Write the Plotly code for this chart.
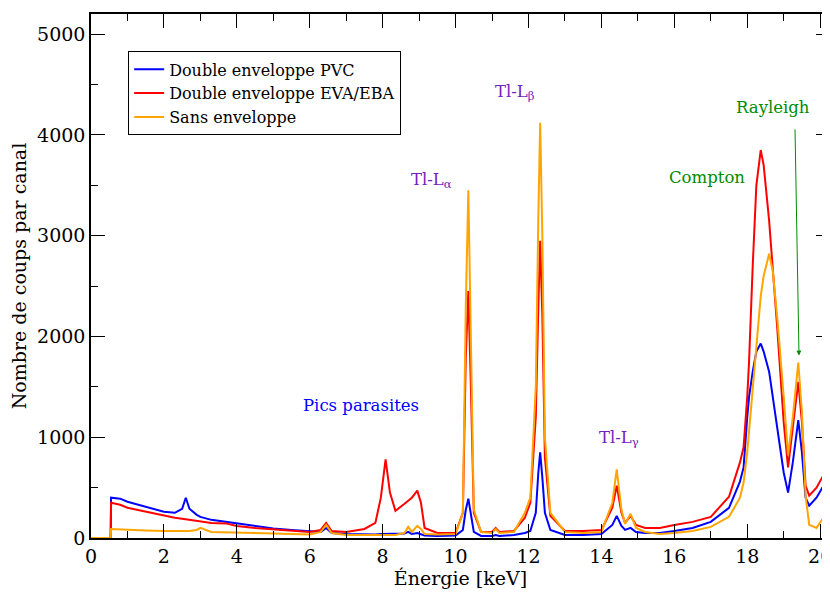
import plotly.graph_objects as go

# Energy grid (keV) and counts per channel
energy = [0, 0.54, 0.55, 0.8, 1.0, 1.5, 2.0, 2.3, 2.5, 2.6, 2.7, 2.9, 3.0, 3.3, 3.7, 4.0,
          4.5, 5.0, 5.5, 6.0, 6.3, 6.45, 6.6, 7.0, 7.5, 7.8, 7.95, 8.08, 8.2, 8.35,
          8.6, 8.7, 8.8, 8.95, 9.05, 9.15, 9.5, 10.0, 10.2, 10.28, 10.35, 10.42, 10.5,
          10.7, 11.0, 11.1, 11.2, 11.6, 11.9, 12.05, 12.2, 12.27, 12.32, 12.38, 12.45,
          12.6, 12.75, 13.0, 13.5, 14.0, 14.3, 14.42, 14.55, 14.65, 14.8, 14.95, 15.2,
          15.6, 16.0, 16.5, 17.0, 17.5, 17.8, 17.9, 18.0, 18.05, 18.15, 18.25, 18.37,
          18.45, 18.6, 18.7, 18.82, 19.0, 19.12, 19.25, 19.4, 19.5, 19.6, 19.7, 19.9, 20.27]

pvc = [0, 0, 400, 390, 360, 310, 260, 250, 290, 400, 290, 230, 210, 180, 160, 140,
       115, 95, 80, 65, 60, 100, 50, 40, 35, 35, 40, 40, 40, 40,
       45, 60, 40, 50, 40, 25, 20, 25, 80, 280, 390, 250, 60,
       20, 20, 30, 20, 30, 50, 70, 250, 650, 850, 600, 250,
       80, 60, 30, 30, 40, 130, 220, 120, 80, 100, 60, 50,
       50, 70, 100, 160, 300, 560, 700, 1200, 1400, 1650, 1850, 1930,
       1850, 1650, 1400, 1100, 650, 450, 750, 1170, 850, 400, 320, 400, 630]

eva = [0, 0, 350, 330, 300, 260, 220, 200, 190, 185, 180, 170, 165, 150, 145, 120,
       100, 85, 70, 60, 80, 150, 70, 60, 90, 150, 400, 780, 450, 270,
       340, 370, 400, 470, 350, 100, 50, 50, 250, 1800, 2450, 1500, 250,
       60, 60, 100, 60, 70, 200, 350, 1200, 2300, 2950, 2200, 800,
       220, 160, 70, 70, 80, 300, 520, 250, 150, 220, 130, 100,
       100, 130, 160, 210, 410, 750, 900, 1400, 1750, 2700, 3500, 3850,
       3700, 3150, 2700, 2100, 1150, 700, 1100, 1550, 1150, 520, 420, 500, 740]

sans = [0, 0, 90, 85, 80, 75, 70, 70, 65, 70, 70, 80, 100, 60, 55, 50,
        50, 45, 40, 35, 60, 130, 50, 30, 30, 30, 30, 30, 30, 30,
        50, 110, 60, 120, 90, 40, 35, 40, 250, 2300, 3450, 2000, 280,
        60, 50, 90, 50, 60, 250, 400, 1500, 3200, 4120, 3000, 1000,
        250, 180, 60, 50, 60, 350, 680, 280, 140, 240, 100, 60,
        40, 50, 70, 110, 210, 400, 550, 850, 1070, 1450, 1900, 2400,
        2600, 2820, 2650, 2200, 1400, 820, 1200, 1740, 1250, 420, 130, 100, 300]

series_names = ["Double enveloppe PVC", "Double enveloppe EVA/EBA", "Sans enveloppe"]
series_colors = ["#0000ff", "#ff0000", "#ffa500"]

FONT = "DejaVu Serif"

fig = go.Figure()
for name, vals, col in zip(series_names, [pvc, eva, sans], series_colors):
    fig.add_trace(go.Scatter(x=energy, y=vals, mode="lines", name=name,
                             line=dict(color=col, width=2)))

purple = "#7221bc"
green = "#008b00"
ann = [
    dict(x=7.4, y=1310, text="Pics parasites", color="#0000ff"),
    dict(x=9.33, y=3550, text="Tl-L<sub>α</sub>", color=purple),
    dict(x=11.63, y=4420, text="Tl-L<sub>β</sub>", color=purple),
    dict(x=14.47, y=990, text="Tl-L<sub>γ</sub>", color=purple),
    dict(x=16.9, y=3580, text="Compton", color=green),
    dict(x=18.7, y=4270, text="Rayleigh", color=green),
]
for a in ann:
    fig.add_annotation(x=a["x"], y=a["y"], text=a["text"], showarrow=False,
                       font=dict(family=FONT, size=16.5, color=a["color"]))

fig.add_annotation(x=19.42, y=1810, ax=19.31, ay=4070, xref="x", yref="y",
                   axref="x", ayref="y", text="", showarrow=True,
                   arrowhead=2, arrowsize=1, arrowwidth=1, arrowcolor=green)

axis_common = dict(showline=True, linecolor="black", linewidth=1.5, mirror="ticks",
                   ticks="inside", ticklen=14, tickwidth=1, tickcolor="black",
                   showgrid=False, zeroline=False, ticklabeloverflow="allow",
                   tickfont=dict(family=FONT, size=19, color="black"))

fig.update_xaxes(range=[0, 20.27], tick0=0, dtick=2,
                 minor=dict(ticks="inside", ticklen=7, dtick=1, tickcolor="black", showgrid=False),
                 title=dict(text="Énergie [keV]", font=dict(family=FONT, size=19, color="black"), standoff=5),
                 **axis_common)
fig.update_yaxes(range=[0, 5200], tick0=0, dtick=1000,
                 minor=dict(ticks="inside", ticklen=7, dtick=500, tickcolor="black", showgrid=False),
                 title=dict(text="Nombre de coups par canal", font=dict(family=FONT, size=19, color="black"), standoff=11),
                 **axis_common)

# the page body adds an 8px offset; sizes/margins compensate for it
fig.update_layout(
    width=822, height=585,
    margin=dict(l=83, r=0, t=6, b=55, autoexpand=False),
    paper_bgcolor="white", plot_bgcolor="white",
    font=dict(family=FONT, size=16, color="black"),
    legend=dict(x=0.05, y=0.929, xanchor="left", yanchor="top",
                bgcolor="white", bordercolor="black", borderwidth=1.2,
                font=dict(family=FONT, size=16, color="black"),
                itemwidth=30, tracegroupgap=0),
    showlegend=True,
)

fig.write_html("out.html")
